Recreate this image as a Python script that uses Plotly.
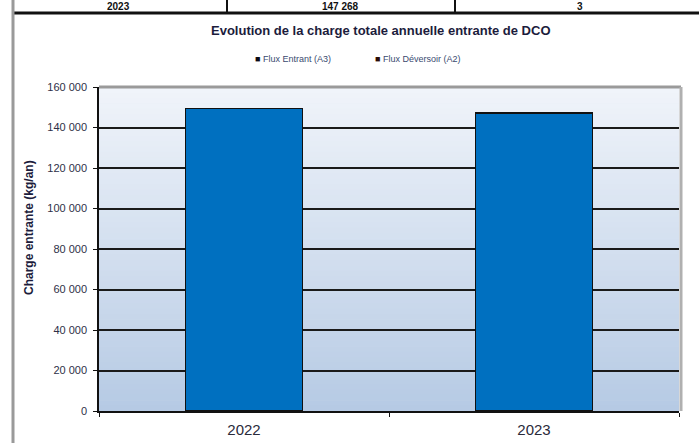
import plotly.graph_objects as go

# ---- data ----
years = ["2022", "2023"]
flux_entrant = [149500, 147200]
flux_deversoir = [None, None]
series_names = ["Flux Entrant (A3)", "Flux Déversoir (A2)"]
y_ticks = [0, 20000, 40000, 60000, 80000, 100000, 120000, 140000, 160000]
table_row = ["2023", "147 268", "3"]

W, H = 699, 443
L, R, T, B = 99, 20, 87, 32
PW, PH = W - L - R, H - T - B


def px(xp):
    return (xp - L) / PW


def py(yp):
    return (H - B - yp) / PH


fig = go.Figure()
fig.add_trace(go.Bar(x=years, y=flux_entrant, name=series_names[0],
                     marker=dict(color="#0070C0", line=dict(color="#111111", width=1.2)),
                     showlegend=False))
fig.add_trace(go.Bar(x=years, y=flux_deversoir, name=series_names[1],
                     marker=dict(color="#3a1a10", line=dict(color="#111111", width=1.2)),
                     showlegend=False))

shapes = []
# gradient background of plot area
N = 60
top = (240, 244, 250)
bot = (182, 202, 228)
for i in range(N):
    t = (i + 0.5) / N
    c = tuple(round(top[k] + (bot[k] - top[k]) * t) for k in range(3))
    shapes.append(dict(type="rect", xref="x domain", yref="y domain",
                       x0=0, x1=1, y0=1 - (i + 1) / N - 0.002, y1=1 - i / N,
                       fillcolor="rgb(%d,%d,%d)" % c, line=dict(width=0), layer="below"))
# plot frame: top and right grey borders
shapes.append(dict(type="line", xref="paper", yref="paper", x0=0, x1=px(681), y0=1, y1=1,
                   line=dict(color="#9a9a9a", width=3)))
shapes.append(dict(type="line", xref="paper", yref="paper", x0=px(681), x1=px(681), y0=0, y1=1,
                   line=dict(color="#b0b0b0", width=3)))
# document frame (table row and left border)
shapes.append(dict(type="line", xref="paper", yref="paper", x0=px(12), x1=px(705), y0=py(13), y1=py(13),
                   line=dict(color="#111111", width=3)))
shapes.append(dict(type="line", xref="paper", yref="paper", x0=px(13), x1=px(13), y0=py(-5), y1=py(450),
                   line=dict(color="#9a9a9a", width=3)))
for xv in (227, 455):
    shapes.append(dict(type="line", xref="paper", yref="paper", x0=px(xv), x1=px(xv), y0=py(-5), y1=py(13),
                       line=dict(color="#111111", width=2)))

annotations = []
# table row text (upper part of the document)
for txt, xc in zip(table_row, (118, 340, 580)):
    annotations.append(dict(text="<b>%s</b>" % txt, x=px(xc), y=py(6), xref="paper", yref="paper",
                            xanchor="center", yanchor="middle", showarrow=False,
                            font=dict(size=10, color="#111111", family="Liberation Sans, Arial")))
# title
annotations.append(dict(text="<b>Evolution de la charge totale annuelle entrante de DCO</b>",
                        x=px(381), y=py(30), xref="paper", yref="paper", showarrow=False,
                        xanchor="center", yanchor="middle",
                        font=dict(size=13, color="#1c1c3c", family="Liberation Sans, Arial")))
# y-axis title
annotations.append(dict(text="<b>Charge entrante (kg/an)</b>",
                        x=px(29), y=py(228), xref="paper", yref="paper", showarrow=False,
                        xanchor="center", yanchor="middle", textangle=-90,
                        font=dict(size=12, color="#1c1c3c", family="Liberation Sans, Arial")))
# legend
for name, col, xl in zip(series_names, ("#0a0a14", "#2a0c06"), (253, 373)):
    annotations.append(dict(text="<span style='color:%s'>■</span> %s" % (col, name),
                            x=px(xl), y=py(59), xref="paper", yref="paper", showarrow=False,
                            xanchor="left", yanchor="middle",
                            font=dict(size=9, color="#3a4a70", family="Liberation Sans, Arial")))

fig.update_layout(
    width=W, height=H,
    margin=dict(l=L, r=R, t=T, b=B, pad=0, autoexpand=False),
    paper_bgcolor="white",
    plot_bgcolor="#dfe7f2",
    barmode="stack",
    bargap=0.597,
    separators=", ",
    showlegend=False,
    shapes=shapes,
    annotations=annotations,
    font=dict(family="Liberation Sans, Arial"),
)
fig.update_xaxes(
    type="category", range=[-0.5, 1.5], automargin=False,
    showline=True, linecolor="#111111", linewidth=1.5,
    ticks="outside", tickson="boundaries", ticklen=4, tickcolor="#111111",
    tickfont=dict(size=15, color="#2a2a3a"), ticklabelstandoff=4, showgrid=False,
)
fig.update_yaxes(
    range=[0, 160000], tickvals=y_ticks, tickformat=",.0f", automargin=False,
    showline=True, linecolor="#111111", linewidth=1.5,
    ticks="outside", ticklen=4, tickcolor="#111111",
    tickfont=dict(size=11, color="#2e3048"), ticklabelstandoff=4,
    showgrid=True, gridcolor="#1a1a1a", gridwidth=1.8,
    zeroline=False,
)

fig.write_html("out.html", config={"displayModeBar": False},
               post_script="document.body.style.margin='0';document.body.style.overflow='hidden';")
